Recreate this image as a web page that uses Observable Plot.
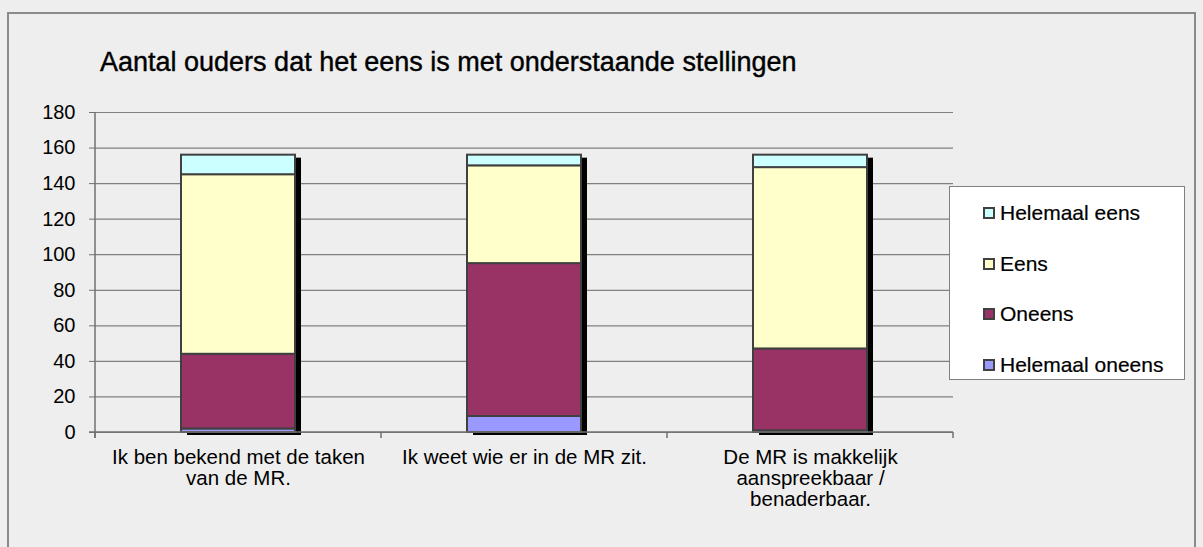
<!DOCTYPE html>
<html><head><meta charset="utf-8">
<script src="https://cdn.jsdelivr.net/npm/d3@7"></script>
<script src="https://cdn.jsdelivr.net/npm/@observablehq/plot@0.6"></script>
<style>
html,body{margin:0;padding:0;background:#eeeeee;}
#wrap{position:relative;width:1203px;height:547px;overflow:hidden;background:#eeeeee;font-family:"Liberation Sans",Arial,sans-serif;}
#frame{position:absolute;left:7px;top:12px;width:1189px;height:560px;border:2px solid #8a8a8a;box-sizing:border-box;}
#chart{position:absolute;left:0;top:0;}
#title{position:absolute;left:100px;top:49px;font-size:27px;line-height:27px;color:#000;white-space:nowrap;-webkit-text-stroke:0.4px #000;}
#legend{position:absolute;left:949px;top:186px;width:236px;height:194px;background:#fff;border:1px solid #808080;box-sizing:border-box;}
.item{position:absolute;left:33px;height:22px;display:flex;align-items:center;font-size:21px;color:#000;white-space:nowrap;-webkit-text-stroke:0.2px #000;}
.sw{width:12px;height:12px;border:2px solid #404040;box-sizing:border-box;margin-right:5px;}
#chart svg text{-webkit-text-stroke:0.2px #000;}
</style>
</head><body>
<div id="wrap">
  <div id="frame"></div>
  <div id="chart"></div>
  <div id="title"></div>
  <div id="legend"></div>
</div>
<script>
const title = "Aantal ouders dat het eens is met onderstaande stellingen";
const categories = ["Ik ben bekend met de taken van de MR.", "Ik weet wie er in de MR zit.", "De MR is makkelijk aanspreekbaar / benaderbaar."];
const tickLabels = ["Ik ben bekend met de taken\nvan de MR.", "Ik weet wie er in de MR zit.", "De MR is makkelijk\naanspreekbaar /\nbenaderbaar."];
const series = ["Helemaal oneens", "Oneens", "Eens", "Helemaal eens"];
const colors = ["#9999ff", "#993366", "#ffffcc", "#ccffff"];
const helemaalOneens = [2, 9, 1];
const oneens = [42, 86, 46];
const eens = [101, 55, 102];
const helemaalEens = [11, 6, 7];
const yTicks = [0, 20, 40, 60, 80, 100, 120, 140, 160, 180];

const valuesBySeries = [helemaalOneens, oneens, eens, helemaalEens];
const data = [];
categories.forEach((c, i) => {
  series.forEach((s, j) => data.push({cat: c, series: s, value: valuesBySeries[j][i]}));
});
const totals = categories.map((c, i) => ({cat: c, total: valuesBySeries.reduce((a, v) => a + v[i], 0)}));

document.getElementById("title").textContent = title;

// axis lines + category boundary ticks, drawn from the scales
function axisFrame(index, scales, values, dims) {
  const x = scales.x, y = scales.y;
  const bw = typeof x.bandwidth === "function" ? x.bandwidth() : x.bandwidth;
  const g = document.createElementNS("http://www.w3.org/2000/svg", "g");
  const line = (x1, y1, x2, y2) => {
    const l = document.createElementNS("http://www.w3.org/2000/svg", "line");
    l.setAttribute("x1", x1); l.setAttribute("y1", y1);
    l.setAttribute("x2", x2); l.setAttribute("y2", y2);
    l.setAttribute("stroke", "#707070"); l.setAttribute("stroke-width", 1.5);
    g.appendChild(l);
  };
  const left = dims.marginLeft, right = dims.width - dims.marginRight;
  const y0 = y(0), yTop = y(yTicks[yTicks.length - 1]);
  line(left, yTop, left, y0 + 6);
  line(left - 6, y0, right, y0);
  const bounds = [left];
  for (let i = 0; i < categories.length - 1; i++) {
    bounds.push((x(categories[i]) + bw + x(categories[i + 1])) / 2);
  }
  bounds.push(right);
  bounds.forEach(b => line(b, y0, b, y0 + 6));
  return g;
}

const plot = Plot.plot({
  width: 1203,
  height: 547,
  marginLeft: 95,
  marginRight: 250,
  marginTop: 112,
  marginBottom: 115,
  style: {background: "transparent", fontFamily: "'Liberation Sans', Arial, sans-serif", color: "#000"},
  x: {domain: categories, paddingInner: 0.6, paddingOuter: 0.3, label: null},
  y: {domain: [0, 180], label: null},
  color: {domain: series, range: colors},
  marks: [
    Plot.gridY(yTicks, {stroke: "#808080", strokeOpacity: 1, strokeWidth: 1.2}),
    Plot.axisY(yTicks, {tickSize: 6, tickPadding: 14, fontSize: 20, stroke: "#707070", label: null}),
    Plot.axisX({tickSize: 0, tickPadding: 17, fontSize: 20.5, lineHeight: 1.02, label: null, tickFormat: (d) => tickLabels[categories.indexOf(d)]}),
    Plot.barY(totals, {x: "cat", y: "total", fill: "#000", dx: 6, dy: 3}),
    Plot.barY(data, {x: "cat", y: "value", fill: "series", stroke: "#404040", strokeWidth: 2}),
    axisFrame
  ]
});
document.getElementById("chart").appendChild(plot);

const legend = document.getElementById("legend");
const legendOrder = [3, 2, 1, 0];
legendOrder.forEach((j, k) => {
  const it = document.createElement("div");
  it.className = "item";
  it.style.top = (15 + k * 50.7) + "px";
  const sw = document.createElement("div");
  sw.className = "sw";
  sw.style.background = colors[j];
  const tx = document.createElement("span");
  tx.textContent = series[j];
  it.appendChild(sw); it.appendChild(tx);
  legend.appendChild(it);
});
</script>
</body></html>
